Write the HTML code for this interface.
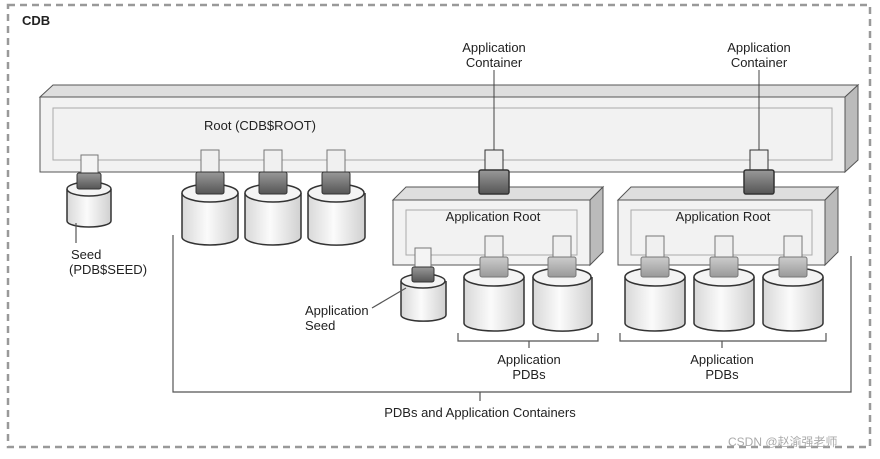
<!DOCTYPE html>
<html><head><meta charset="utf-8"><style>
html,body{margin:0;padding:0;background:#fff;}
svg{display:block;font-family:"Liberation Sans",Arial,sans-serif;}
</style></head><body>
<svg width="880" height="459" viewBox="0 0 880 459" xmlns="http://www.w3.org/2000/svg">
<defs>
<linearGradient id="cyl" x1="0" x2="1" y1="0" y2="0">
<stop offset="0" stop-color="#d8d8d8"/><stop offset="0.45" stop-color="#fbfbfb"/><stop offset="1" stop-color="#d0d0d0"/></linearGradient>
<linearGradient id="plg" x1="0" x2="0" y1="0" y2="1">
<stop offset="0" stop-color="#999"/><stop offset="1" stop-color="#555"/></linearGradient>
<linearGradient id="plgl" x1="0" x2="0" y1="0" y2="1">
<stop offset="0" stop-color="#ccc"/><stop offset="1" stop-color="#999"/></linearGradient>
</defs>
<rect x="8" y="5" width="862" height="442" fill="none" stroke="#999" stroke-width="2.5" stroke-dasharray="7,5"/>
<text x="22" y="25" font-size="13" font-weight="bold" fill="#222">CDB</text>

<!-- Root box -->
<polygon points="40,97 53,85 858,85 845,97" fill="#dedede" stroke="#555"/>
<polygon points="845,97 858,85 858,160 845,172" fill="#bbb" stroke="#555"/>
<rect x="40" y="97" width="805" height="75" fill="#f2f2f2" stroke="#555"/>
<rect x="53" y="108" width="779" height="52" fill="none" stroke="#aaa"/>
<text x="260" y="130" font-size="13" text-anchor="middle" fill="#222">Root (CDB$ROOT)</text>

<text x="494" y="52" font-size="13" text-anchor="middle" fill="#222">Application</text>
<text x="494" y="67" font-size="13" text-anchor="middle" fill="#222">Container</text>
<text x="759" y="52" font-size="13" text-anchor="middle" fill="#222">Application</text>
<text x="759" y="67" font-size="13" text-anchor="middle" fill="#222">Container</text>
<line x1="494" y1="70" x2="494" y2="152" stroke="#444"/>
<line x1="759" y1="70" x2="759" y2="152" stroke="#444"/>

<!-- App containers -->
<g stroke="#555">
<polygon points="393,200 406,187 603,187 590,200" fill="#dedede"/>
<polygon points="590,200 603,187 603,252 590,265" fill="#bbb"/>
<rect x="393" y="200" width="197" height="65" fill="#f2f2f2"/>
<rect x="406" y="210" width="171" height="45" fill="none" stroke="#aaa"/>
<polygon points="618,200 631,187 838,187 825,200" fill="#dedede"/>
<polygon points="825,200 838,187 838,252 825,265" fill="#bbb"/>
<rect x="618" y="200" width="207" height="65" fill="#f2f2f2"/>
<rect x="631" y="210" width="181" height="45" fill="none" stroke="#aaa"/>
</g>
<text x="493" y="221" font-size="13" text-anchor="middle" fill="#222">Application Root</text>
<text x="723" y="221" font-size="13" text-anchor="middle" fill="#222">Application Root</text>

<!-- container plugs -->
<g stroke="#333">
<rect x="485" y="150" width="18" height="20" fill="#eee"/>
<rect x="479" y="170" width="30" height="24" rx="2" fill="url(#plg)" stroke-width="1.5"/>
<rect x="750" y="150" width="18" height="20" fill="#eee"/>
<rect x="744" y="170" width="30" height="24" rx="2" fill="url(#plg)" stroke-width="1.5"/>
</g>

<!-- cylinders: function-like manual -->
<g stroke="#333" stroke-width="1.5">
<!-- seed -->
<path d="M67,189 v32 a22,6 0 0 0 44,0 v-32" fill="url(#cyl)"/><ellipse cx="89" cy="189" rx="22" ry="7" fill="#f4f4f4"/>
<!-- PDBs -->
<path d="M182,193 v44 a28,8 0 0 0 56,0 v-44" fill="url(#cyl)"/><ellipse cx="210" cy="193" rx="28" ry="9" fill="#f4f4f4"/>
<path d="M245,193 v44 a28,8 0 0 0 56,0 v-44" fill="url(#cyl)"/><ellipse cx="273" cy="193" rx="28" ry="9" fill="#f4f4f4"/>
<path d="M308,193 v44 a28,8 0 0 0 57,0 v-44" fill="url(#cyl)"/><ellipse cx="336" cy="193" rx="28" ry="9" fill="#f4f4f4"/>
<!-- app seed -->
<path d="M401,281 v34 a22,6 0 0 0 45,0 v-34" fill="url(#cyl)"/><ellipse cx="423" cy="281" rx="22" ry="7" fill="#f4f4f4"/>
<!-- app PDBs -->
<path d="M464,277 v46 a30,8 0 0 0 60,0 v-46" fill="url(#cyl)"/><ellipse cx="494" cy="277" rx="30" ry="9" fill="#f4f4f4"/>
<path d="M533,277 v46 a29,8 0 0 0 59,0 v-46" fill="url(#cyl)"/><ellipse cx="562" cy="277" rx="29" ry="9" fill="#f4f4f4"/>
<path d="M625,277 v46 a30,8 0 0 0 60,0 v-46" fill="url(#cyl)"/><ellipse cx="655" cy="277" rx="30" ry="9" fill="#f4f4f4"/>
<path d="M694,277 v46 a30,8 0 0 0 60,0 v-46" fill="url(#cyl)"/><ellipse cx="724" cy="277" rx="30" ry="9" fill="#f4f4f4"/>
<path d="M763,277 v46 a30,8 0 0 0 60,0 v-46" fill="url(#cyl)"/><ellipse cx="793" cy="277" rx="30" ry="9" fill="#f4f4f4"/>
</g>

<!-- plugs on PDBs -->
<g stroke="#777">
<rect x="81" y="155" width="17" height="18" fill="#f4f4f4"/>
<rect x="77" y="173" width="24" height="16" rx="2" fill="url(#plg)" stroke="#333"/>
<rect x="201" y="150" width="18" height="22" fill="#f0f0f0"/>
<rect x="196" y="172" width="28" height="22" rx="2" fill="url(#plg)" stroke="#333"/>
<rect x="264" y="150" width="18" height="22" fill="#f0f0f0"/>
<rect x="259" y="172" width="28" height="22" rx="2" fill="url(#plg)" stroke="#333"/>
<rect x="327" y="150" width="18" height="22" fill="#f0f0f0"/>
<rect x="322" y="172" width="28" height="22" rx="2" fill="url(#plg)" stroke="#333"/>
<rect x="415" y="248" width="16" height="19" fill="#f4f4f4"/>
<rect x="412" y="267" width="22" height="15" rx="2" fill="url(#plg)" stroke="#333"/>
<rect x="485" y="236" width="18" height="22" fill="#f0f0f0"/>
<rect x="480" y="257" width="28" height="20" rx="2" fill="url(#plgl)"/>
<rect x="553" y="236" width="18" height="22" fill="#f0f0f0"/>
<rect x="548" y="257" width="28" height="20" rx="2" fill="url(#plgl)"/>
<rect x="646" y="236" width="18" height="22" fill="#f0f0f0"/>
<rect x="641" y="257" width="28" height="20" rx="2" fill="url(#plgl)"/>
<rect x="715" y="236" width="18" height="22" fill="#f0f0f0"/>
<rect x="710" y="257" width="28" height="20" rx="2" fill="url(#plgl)"/>
<rect x="784" y="236" width="18" height="22" fill="#f0f0f0"/>
<rect x="779" y="257" width="28" height="20" rx="2" fill="url(#plgl)"/>
</g>

<!-- labels & brackets -->
<g stroke="#555" fill="none" stroke-width="1.2">
<line x1="76" y1="223" x2="76" y2="243"/>
<line x1="372" y1="308" x2="406" y2="288"/>
<path d="M458,333 v8 h140 v-8"/><line x1="529" y1="341" x2="529" y2="348"/>
<path d="M620,333 v8 h206 v-8"/><line x1="722" y1="341" x2="722" y2="348"/>
<path d="M173,235 V392 H851 V256"/><line x1="480" y1="392" x2="480" y2="401"/>
</g>
<g font-size="13" fill="#222">
<text x="71" y="259">Seed</text>
<text x="69" y="274">(PDB$SEED)</text>
<text x="305" y="315">Application</text>
<text x="305" y="330">Seed</text>
<text x="529" y="364" text-anchor="middle">Application</text>
<text x="529" y="379" text-anchor="middle">PDBs</text>
<text x="722" y="364" text-anchor="middle">Application</text>
<text x="722" y="379" text-anchor="middle">PDBs</text>
<text x="480" y="417" text-anchor="middle">PDBs and Application Containers</text>
</g>
<text x="728" y="446" font-size="12" fill="#aaa">CSDN @赵渝强老师</text>
</svg>
</body></html>
